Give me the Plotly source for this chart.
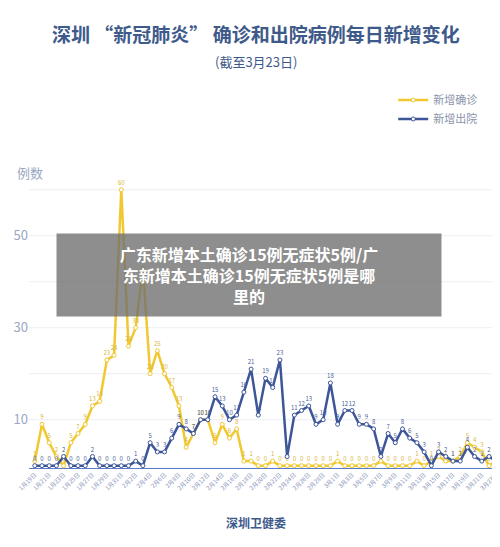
import plotly.graph_objects as go
import datetime as dt

start = dt.date(2020, 1, 19)
dates = [start + dt.timedelta(days=i) for i in range(65)]
date_labels = [f"{d.month}月{d.day}日" for d in dates]

confirmed = [1,9,5,2,0,5,7,9,13,14,23,24,60,26,30,43,
             20,25,20,17,13,4,7,10,10,5,9,6,8,
             1,1,0,0,1,0,0,0,0,0,0,0,0,
             1,0,0,0,0,0,1,0,0,0,0,1,0,1,2,1,1,2,5,4,3,0,1]
discharged = [0,0,0,0,2,0,0,0,2,0,0,0,0,0,1,0,
              5,3,3,6,9,8,7,10,10,15,13,10,11,16,21,11,19,17,23,2,11,12,13,9,10,18,
              9,12,12,9,9,8,2,7,5,8,6,5,3,0,3,2,1,1,4,2,1,2,1]

yticks = [10, 30, 50]
x = list(range(len(dates)))
yel = "#f2c830"
blu = "#3d5699"

fig = go.Figure()
fig.add_trace(go.Scatter(x=x, y=confirmed, name="新增确诊", mode="lines+markers+text",
    line=dict(color=yel, width=2.5), marker=dict(size=4, color="white", line=dict(color=yel, width=1)),
    text=[str(v) for v in confirmed], textposition="top center",
    textfont=dict(size=6, color="#d8b640")))
fig.add_trace(go.Scatter(x=x, y=discharged, name="新增出院", mode="lines+markers+text",
    line=dict(color=blu, width=2.5), marker=dict(size=4, color="white", line=dict(color=blu, width=1)),
    text=[str(v) for v in discharged], textposition="top center",
    textfont=dict(size=6, color="#4a5f9a")))

fig.update_layout(
    width=500, height=547, paper_bgcolor="white", plot_bgcolor="white",
    margin=dict(l=21, r=6, t=168, b=87),
    font=dict(family="Noto Sans CJK SC"),
    showlegend=True,
    legend=dict(x=0.77, y=1.31, xanchor="left", yanchor="top", font=dict(size=11, color="#8a94aa"),
                bgcolor="rgba(0,0,0,0)"),
    xaxis=dict(tickmode="array", tickvals=x[::2], ticktext=date_labels[::2], tickangle=-45,
               tickfont=dict(size=6, color="#7f8fb8"), showgrid=False, range=[-0.8, 64.8],
               showline=True, linecolor="#5a7ad0", linewidth=1, zeroline=False),
    yaxis=dict(range=[-0.5, 63], tickvals=yticks, tickfont=dict(size=13, color="#9aa6c4"),
               showgrid=False, zeroline=False, ticklabelstandoff=0),
    shapes=[dict(type="line", xref="paper", x0=0, x1=1, yref="y", y0=v, y1=v,
                 line=dict(color="#eceef3", width=1), layer="below") for v in range(10, 61, 10)],
    annotations=[
        dict(text="<b>深圳 “新冠肺炎” 确诊和出院病例每日新增变化</b>", x=0.48, y=1.54, xref="paper", yref="paper",
             showarrow=False, font=dict(size=19, color="#3e5a8a")),
        dict(text="例数", xref="paper", yref="paper", x=-0.03, y=1.05, xanchor="left", showarrow=False,
             font=dict(size=13, color="#9aa6c4")),
        dict(text="(截至3月23日)", xref="paper", yref="paper", x=0.48, y=1.43, showarrow=False,
             font=dict(size=13, color="#3e5a8a")),
        dict(text="<b>深圳卫健委</b>", xref="paper", yref="paper", x=0.48, y=-0.223, showarrow=False,
             font=dict(size=12, color="#3e5a8a")),
        dict(text="<b>广东新增本土确诊15例无症状5例/广<br>东新增本土确诊15例无症状5例是哪<br>里的</b>",
             xref="paper", yref="paper", x=0.465, y=0.66, showarrow=False, bgcolor="rgba(110,110,110,0.78)",
             width=382, height=80, font=dict(size=16, color="white")),
    ],
)
fig.write_html("out.html")
